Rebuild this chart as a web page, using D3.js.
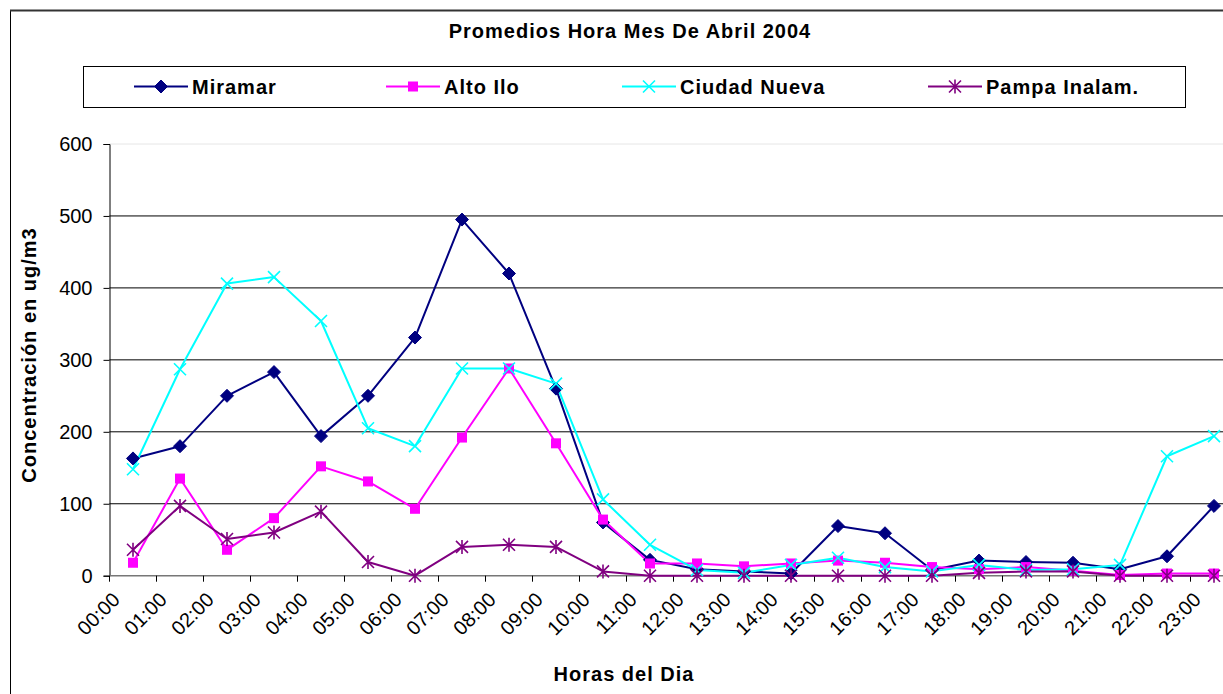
<!DOCTYPE html>
<html>
<head>
<meta charset="utf-8">
<script src="https://cdn.jsdelivr.net/npm/d3@7"></script>
<style>
  html, body { margin: 0; padding: 0; background: #fff; overflow: hidden; }
  svg { display: block; font-family: "Liberation Sans", Arial, sans-serif; }
</style>
</head>
<body>
<svg id="chart" width="1223" height="694"></svg>
<script>
const hours = ["00:00","01:00","02:00","03:00","04:00","05:00","06:00","07:00","08:00","09:00","10:00","11:00",
               "12:00","13:00","14:00","15:00","16:00","17:00","18:00","19:00","20:00","21:00","22:00","23:00"];
const miramar     = [163,180,250,283,194,250,331,495,420,260,74,22,9,6,3,69,59,8,21,19,18,9,27,97];
const altoIlo     = [18,135,36,80,152,131,93,192,288,184,78,17,17,13,17,21,18,12,9,12,7,1,3,3];
const ciudadNueva = [148,287,406,415,354,205,180,288,288,267,106,43,8,4,15,25,12,6,15,8,9,15,166,194];
const pampa       = [36,97,51,60,89,19,0,40,43,40,6,0,0,0,0,0,0,0,4,6,6,0,0,0];
const seriesNames = ["Miramar","Alto Ilo","Ciudad Nueva","Pampa Inalam."];
const yTicks = [0,100,200,300,400,500,600];
const chartTitle = "Promedios Hora Mes De Abril 2004";
const xTitle = "Horas del Dia";
const yTitle = "Concentración en ug/m3";

const series = [
  {name: seriesNames[0], values: miramar,     color: "#000080", marker: "diamond"},
  {name: seriesNames[1], values: altoIlo,     color: "#FF00FF", marker: "square"},
  {name: seriesNames[2], values: ciudadNueva, color: "#00FFFF", marker: "x"},
  {name: seriesNames[3], values: pampa,       color: "#800080", marker: "star"}
];

const svg = d3.select("#chart");
const plot = {left: 109.5, right: 1237.5, top: 144, bottom: 575.7};

const x = d3.scaleBand().domain(hours).range([plot.left, plot.right]).paddingInner(0).paddingOuter(0);
const y = d3.scaleLinear().domain([0, 600]).range([plot.bottom, plot.top]);
const cx = d => x(d) + x.bandwidth() / 2;

// outer chart border
svg.append("rect").attr("x", 10.5).attr("y", 10.5).attr("width", 1400).attr("height", 900)
  .attr("fill", "none").attr("stroke", "#000").attr("stroke-width", 1);
svg.append("line").attr("x1", 10).attr("x2", 1223).attr("y1", 10.5).attr("y2", 10.5)
  .attr("stroke", "#333").attr("stroke-width", 2);

// title
svg.append("text").attr("x", 630).attr("y", 38).attr("text-anchor", "middle")
  .attr("font-size", 20).attr("font-weight", "bold").attr("letter-spacing", 1)
  .text(chartTitle);

// gridlines
svg.append("g").selectAll("line").data(yTicks.filter(t => t > 0)).join("line")
  .attr("x1", plot.left).attr("x2", plot.right)
  .attr("y1", d => y(d)).attr("y2", d => y(d))
  .attr("stroke", d => d === 600 ? "#e6e6e6" : "#000").attr("stroke-width", 1);

// y axis
const yAxis = svg.append("g").attr("transform", `translate(${plot.left},0)`)
  .call(d3.axisLeft(y).tickValues(yTicks).tickSize(6).tickPadding(11));
yAxis.select(".domain").attr("stroke", "#000");
yAxis.selectAll(".tick line").attr("stroke", "#000");
yAxis.selectAll(".tick text").attr("font-size", 20).attr("fill", "#000")
  .attr("font-family", "Liberation Sans, Arial, sans-serif");

// x axis
const xg = svg.append("g").attr("transform", `translate(0,${plot.bottom})`);
xg.append("line").attr("x1", plot.left).attr("x2", plot.right).attr("y1", 0).attr("y2", 0)
  .attr("stroke", "#777").attr("stroke-width", 1.5);
const bounds = hours.map(h => x(h)).concat([plot.right]);
xg.selectAll("line.tk").data(bounds).join("line").attr("class", "tk")
  .attr("x1", d => d).attr("x2", d => d).attr("y1", 0).attr("y2", 6)
  .attr("stroke", "#000").attr("stroke-width", 1);
svg.append("g").selectAll("text").data(hours).join("text")
  .attr("transform", d => `translate(${cx(d) - 12},${601}) rotate(-45)`)
  .attr("text-anchor", "end").attr("font-size", 20).attr("fill", "#000")
  .text(d => d);

// axis titles
svg.append("text").attr("x", 624).attr("y", 681).attr("text-anchor", "middle")
  .attr("font-size", 20).attr("font-weight", "bold").attr("letter-spacing", 1)
  .text(xTitle);
svg.append("text").attr("transform", "translate(36,355) rotate(-90)").attr("text-anchor", "middle")
  .attr("font-size", 20).attr("font-weight", "bold").attr("letter-spacing", 1)
  .text(yTitle);

// marker drawing
function drawMarker(g, type, color) {
  if (type === "diamond") {
    g.append("path").attr("d", "M0,-6.5L6.5,0L0,6.5L-6.5,0Z").attr("fill", color).attr("stroke", color);
  } else if (type === "square") {
    g.append("rect").attr("x", -5).attr("y", -5).attr("width", 10).attr("height", 10).attr("fill", color);
  } else if (type === "x") {
    g.append("path").attr("d", "M-6,-6L6,6M-6,6L6,-6").attr("stroke", color).attr("stroke-width", 1.6).attr("fill", "none");
  } else if (type === "star") {
    g.append("path").attr("d", "M-6,-6L6,6M-6,6L6,-6M0,-7L0,7").attr("stroke", color).attr("stroke-width", 1.6).attr("fill", "none");
  }
}

// lines and markers
const line = d3.line().x((d, i) => cx(hours[i])).y(d => y(d));
series.forEach(s => {
  svg.append("path").datum(s.values).attr("d", line)
    .attr("fill", "none").attr("stroke", s.color).attr("stroke-width", 2).attr("stroke-linejoin", "round");
});
series.forEach(s => {
  s.values.forEach((v, i) => {
    const g = svg.append("g").attr("transform", `translate(${cx(hours[i])},${y(v)})`);
    drawMarker(g, s.marker, s.color);
  });
});

// legend
svg.append("rect").attr("x", 83.5).attr("y", 66.5).attr("width", 1102).attr("height", 41)
  .attr("fill", "#fff").attr("stroke", "#000").attr("stroke-width", 1);
const legendX = [134, 386, 622, 928];
series.forEach((s, i) => {
  const g = svg.append("g").attr("transform", `translate(${legendX[i]},86.5)`);
  g.append("line").attr("x1", 0).attr("x2", 54).attr("y1", 0).attr("y2", 0)
    .attr("stroke", s.color).attr("stroke-width", 2);
  drawMarker(g.append("g").attr("transform", "translate(27,0)"), s.marker, s.color);
  g.append("text").attr("x", 58).attr("y", 7).attr("font-size", 20).attr("font-weight", "bold")
    .attr("letter-spacing", 1).text(s.name);
});
</script>
</body>
</html>
